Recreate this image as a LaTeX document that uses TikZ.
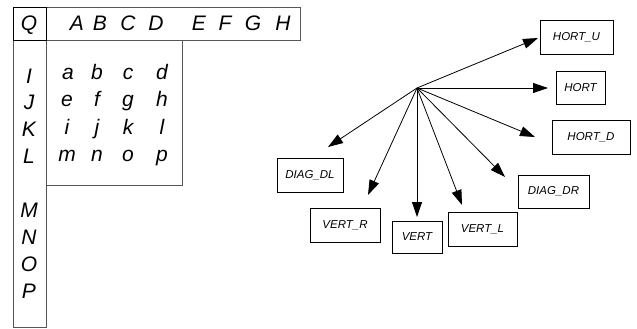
\documentclass[tikz,border=0pt]{standalone}
\usepackage{fontspec}
\setmainfont{Liberation Sans}
\usetikzlibrary{arrows.meta}
\definecolor{gridline}{HTML}{555555}
\tikzset{
  big/.style={font=\fontsize{21}{25}\selectfont\itshape, inner sep=0pt, anchor=base},
  frame/.style={draw=gridline, line width=0.9pt},
  qframe/.style={draw=black, line width=1.5pt},
  label box/.style={draw=black, line width=0.8pt, inner sep=0pt,
    font=\fontsize{11.5}{13}\selectfont\itshape},
  ray/.style={draw=black, line width=0.8pt, -{Triangle[length=15pt,width=10pt]}}
}
\begin{document}
\begin{tikzpicture}[x=1pt,y=-1pt]
\useasboundingbox (0,0) rectangle (637,329);

% table frames
\draw[frame] (46.7,7.3) rectangle (300,40.7);
\draw[frame] (13.3,40.7) rectangle (46.7,327.7);
\draw[frame] (46.7,40.7) rectangle (182.3,185);
\draw[qframe] (13.3,7.3) rectangle (46.7,40.7);

% corner and column headers
\node[big] (q) at (29,30.5) {Q};
\foreach \t/\x in {A/77,B/100,C/128,D/156,E/199,F/225,G/253,H/283}
  \node[big] (col-\t) at (\x,30.5) {\t};

% row headers
\foreach \t/\y in {I/83,J/110,K/136.5,L/163,M/217,N/244,O/271,P/298}
  \node[big] (row-\t) at (29,\y) {\t};

% cell entries
\foreach \t/\x/\y in {a/68/79.5,b/97/79.5,c/128/79.5,d/162/79.5,
                      e/67/106.7,f/97/106.7,g/128/106.7,h/162/106.7,
                      i/67/134,j/97/134,k/128/134,l/162/134,
                      m/67/161.5,n/97/161.5,o/128/161.5,p/162/161.5}
  \node[big] (cell-\t) at (\x,\y) {\t};

% direction fan
\coordinate (hub) at (417,88);
\node[label box, minimum width=73pt, minimum height=34pt] (hortu) at (576.5,37) {HORT\textunderscore U};
\node[label box, minimum width=49pt, minimum height=33pt] (hort) at (580.5,87.5) {HORT};
\node[label box, minimum width=78pt, minimum height=34pt] (hortd) at (591,137) {HORT\textunderscore D};
\node[label box, minimum width=66pt, minimum height=34pt] (diagdl) at (310,175) {DIAG\textunderscore DL};
\node[label box, minimum width=71pt, minimum height=33pt] (diagdr) at (553.5,191.5) {DIAG\textunderscore DR};
\node[label box, minimum width=70pt, minimum height=34pt] (vertr) at (345,225) {VERT\textunderscore R};
\node[label box, minimum width=50pt, minimum height=32pt] (vert) at (417,237) {VERT};
\node[label box, minimum width=69pt, minimum height=34pt] (vertl) at (482.5,229) {VERT\textunderscore L};

\coordinate (tip-hortu) at (538,38);
\coordinate (tip-hort) at (548,88);
\coordinate (tip-hortd) at (535,137);
\coordinate (tip-diagdl) at (328,147);
\coordinate (tip-vertr) at (368,195);
\coordinate (tip-vert) at (417,217);
\coordinate (tip-vertl) at (462,205);
\coordinate (tip-diagdr) at (505,177);

\foreach \n in {hortu,hort,hortd,diagdl,vertr,vert,vertl,diagdr}
  \draw[ray] (hub) -- (tip-\n);
\end{tikzpicture}
\end{document}
